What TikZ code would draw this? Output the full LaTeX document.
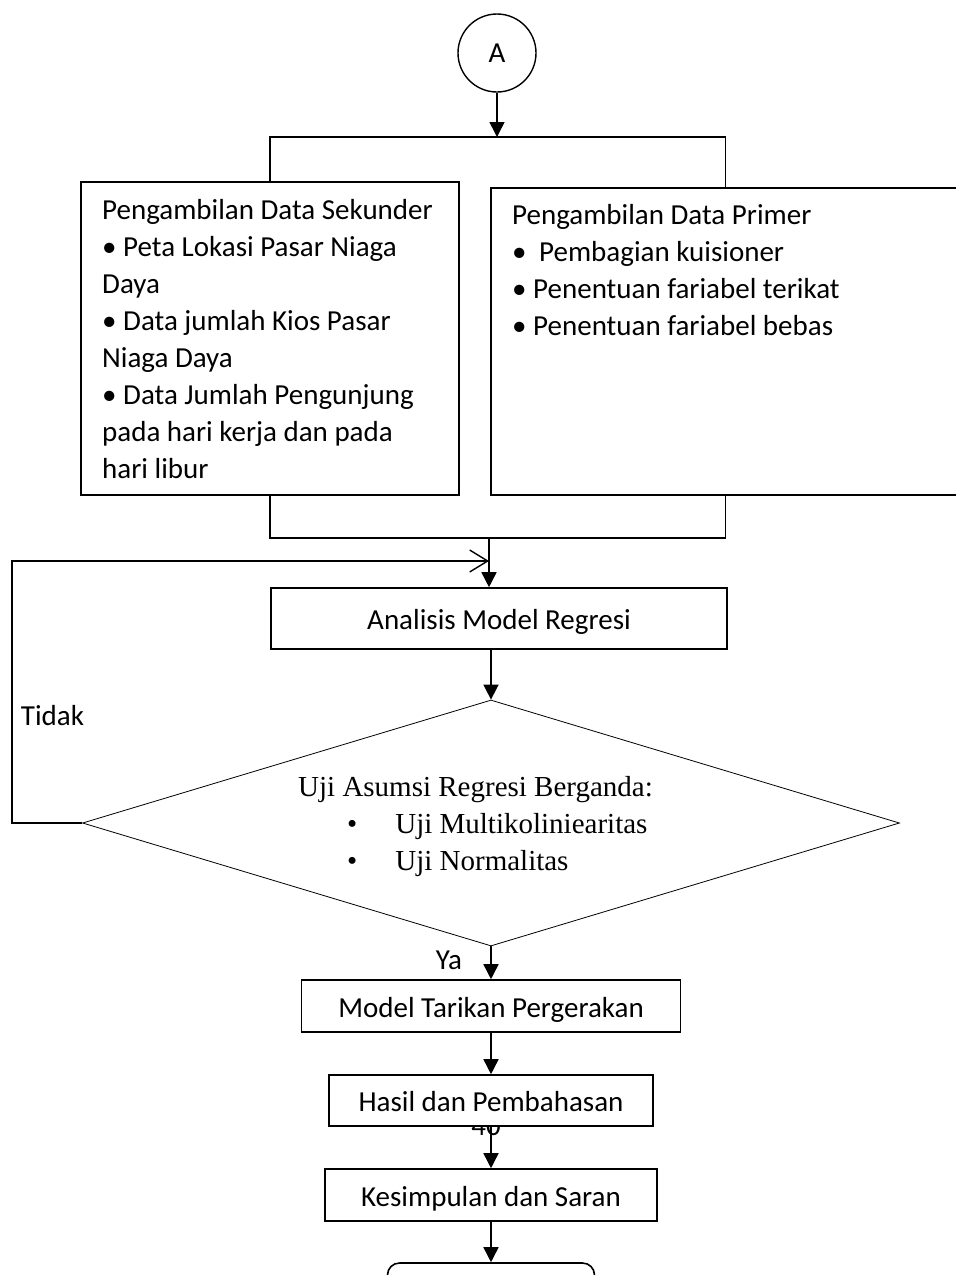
\documentclass[tikz,border=0pt]{standalone}
\usepackage{fontspec}
\setmainfont{Carlito}
\newfontfamily\timesfont{Liberation Serif}
\usetikzlibrary{arrows.meta,positioning,shapes.geometric}
\newcommand{\isifont}{\fontsize{29pt}{37pt}\selectfont}
\newcommand{\ujifont}{\timesfont\fontsize{29pt}{37pt}\selectfont}
\tikzset{
  kotak/.style={draw, line width=1.6pt, align=center, inner sep=0pt, font=\isifont, text height=22pt, text depth=0pt},
  datakotak/.style={draw, line width=1.6pt, inner sep=0pt},
  isiteks/.style={align=left, inner sep=0pt, font=\isifont},
  konektor/.style={draw, circle, line width=1.4pt, minimum size=78pt, inner sep=0pt, font=\isifont},
  keputusan/.style={draw, diamond, line width=0.8pt, aspect=3.3, minimum width=817pt, minimum height=246pt, inner sep=0pt},
  alur/.style={-{Triangle[length=15pt,width=15pt]}, line width=1.6pt},
  garis/.style={line width=1.6pt},
  balik/.style={-{Straight Barb[length=18pt,width=22pt]}, line width=1.4pt},
  ket/.style={inner sep=0pt, font=\isifont}
}
\begin{document}
\begin{tikzpicture}[x=1pt,y=-1pt]
\useasboundingbox (0,0) rectangle (956,1275);
% konektor awal dan percabangan
\node[konektor] (A) at (497,53) {A};
\coordinate (cabang) at (497,137);
\draw[alur] (A) -- (cabang);
% pengambilan data
\node[datakotak, minimum width=378pt, minimum height=313pt] (sekunder) at (270,338.5) {};
\node[isiteks, anchor=north west] (sekunderteks) at (102,199) {Pengambilan Data Sekunder\\
• Peta Lokasi Pasar Niaga\\
Daya\\
• Data jumlah Kios Pasar\\
Niaga Daya\\
• Data Jumlah Pengunjung\\
pada hari kerja dan pada\\
hari libur};
\node[datakotak, minimum width=469pt, minimum height=307pt] (primer) at (725.5,341.5) {};
\node[isiteks, anchor=north west] (primerteks) at (512,204) {Pengambilan Data Primer\\
•\hspace{6pt} Pembagian kuisioner\\
• Penentuan fariabel terikat\\
• Penentuan fariabel bebas};
\draw[garis] (sekunder.north) -- (sekunder.north |- cabang) -- (primer.north |- cabang) -- (primer.north);
\coordinate (gabung) at (489,538);
\coordinate (masuk) at (489,561);
\draw[garis] (sekunder.south) -- (sekunder.south |- gabung) -- (primer.south |- gabung) -- (primer.south);
% analisis dan uji asumsi
\node[kotak, minimum width=456pt, minimum height=61pt] (analisis) at (499,618.5) {Analisis Model Regresi};
\draw[alur] (gabung) -- (gabung |- analisis.north);
\node[keputusan] (uji) at (491,823) {};
\node[align=left, inner sep=0pt, font=\ujifont, anchor=north west] (ujiteks) at (298,776) {Uji Asumsi Regresi Berganda:\\
\hspace*{49pt}•\hspace{38pt}Uji Multikoliniearitas\\
\hspace*{49pt}•\hspace{38pt}Uji Normalitas};
\draw[alur] (analisis.south -| uji.north) -- (uji.north);
\draw[balik] (uji.west) -- ++(-70,0) |- (masuk);
\node[ket] (tidak) at (52.5,716) {Tidak};
\node[ket] (ya) at (449,960) {Ya};
% hasil akhir
\node[kotak, minimum width=379pt, minimum height=52pt] (model) at (491,1006) {Model Tarikan Pergerakan};
\draw[alur] (uji.south) -- (model.north);
\node[ket, anchor=base] (halaman) at (486,1135) {40};
\node[kotak, fill=white, minimum width=324pt, minimum height=51pt] (hasil) at (491,1100.5) {Hasil dan Pembahasan};
\draw[alur] (model.south) -- (hasil.north);
\node[kotak, minimum width=332pt, minimum height=52pt] (simpulan) at (491,1195) {Kesimpulan dan Saran};
\draw[alur] (hasil.south) -- (simpulan.north);
\node[draw, line width=1.6pt, rounded corners=12pt, minimum width=207pt, minimum height=60pt] (akhir) at (491,1293) {};
\draw[alur] (simpulan.south) -- (akhir.north);
\end{tikzpicture}
\end{document}
